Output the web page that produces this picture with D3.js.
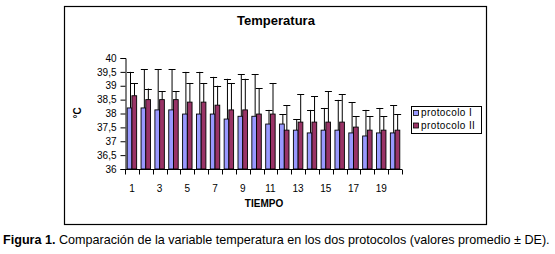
<!DOCTYPE html>
<html>
<head>
<meta charset="utf-8">
<script src="https://cdn.jsdelivr.net/npm/d3@7"></script>
<style>
  body { margin: 0; background: #fff; }
  svg { font-family: "Liberation Sans", Arial, sans-serif; }
</style>
</head>
<body>
<svg id="chart" width="555" height="254"></svg>
<script>
// categories (TIEMPO 1..20)
const tiempo = d3.range(1, 21);
// protocolo I means and SD tops
const protoI    = [38.2, 38.2, 38.13, 38.13, 37.98, 37.98, 37.98, 37.8, 37.9, 37.9,
                   37.62, 37.62, 37.4, 37.3, 37.4, 37.4, 37.3, 37.19, 37.3, 37.3];
const protoIErr = [39.5, 39.6, 39.6, 39.6, 39.5, 39.5, 39.32, 39.25, 39.42, 39.42,
                   38.13, 37.98, 37.8, 38.13, 38.2, 38.49, 38.41, 38.13, 38.2, 38.3];
// protocolo II means and SD tops
const protoII    = [38.64, 38.5, 38.5, 38.5, 38.41, 38.41, 38.3, 38.13, 38.13, 37.98,
                    37.98, 37.4, 37.69, 37.69, 37.69, 37.69, 37.51, 37.4, 37.4, 37.4];
const protoIIErr = [39.1, 38.9, 38.8, 38.8, 39.1, 39.1, 39.0, 39.1, 39.25, 38.92,
                    39.1, 38.3, 38.7, 38.63, 38.81, 38.7, 37.9, 37.9, 37.9, 37.98];
const seriesNames = ['protocolo I', 'protocolo II'];
const yTicks = [36, 36.5, 37, 37.5, 38, 38.5, 39, 39.5, 40];

const svg = d3.select('#chart');

// outer chart frame
svg.append('rect')
    .attr('x', 64.5).attr('y', 6.5)
    .attr('width', 422).attr('height', 218)
    .attr('fill', 'none').attr('stroke', '#000').attr('stroke-width', 1.2);

const plot = { left: 125, right: 402, top: 58, bottom: 169 };

const x0 = d3.scaleBand()
    .domain(tiempo)
    .range([plot.left, plot.right])
    .paddingInner(0).paddingOuter(0);

const x1 = d3.scaleBand()
    .domain(seriesNames)
    .range([2.2, x0.bandwidth() - 2.2]);

const y = d3.scaleLinear()
    .domain([36, 40])
    .range([plot.bottom, plot.top]);

const color = d3.scaleOrdinal()
    .domain(seriesNames)
    .range(['#9999FF', '#993366']);

const rows = tiempo.map((t, i) => ({
  t: t,
  vals: [
    { s: seriesNames[0], v: protoI[i], e: protoIErr[i] },
    { s: seriesNames[1], v: protoII[i], e: protoIIErr[i] }
  ]
}));

const groups = svg.append('g').selectAll('g')
    .data(rows)
  .join('g')
    .attr('transform', d => `translate(${x0(d.t)},0)`);

// error bars (upper only), drawn behind bars
groups.selectAll('.err')
    .data(d => d.vals)
  .join('g')
    .attr('class', 'err')
    .each(function(d) {
      const g = d3.select(this);
      const cx = Math.round(x1(d.s) + x1.bandwidth() / 2) + 0.5;
      g.append('line')
          .attr('x1', cx).attr('x2', cx)
          .attr('y1', y(d.v)).attr('y2', y(d.e))
          .attr('stroke', '#000').attr('stroke-width', 1);
      g.append('line')
          .attr('x1', cx - 3.5).attr('x2', cx + 3.5)
          .attr('y1', Math.round(y(d.e)) + 0.5).attr('y2', Math.round(y(d.e)) + 0.5)
          .attr('stroke', '#000').attr('stroke-width', 1);
    });

groups.selectAll('rect')
    .data(d => d.vals)
  .join('rect')
    .attr('x', d => x1(d.s))
    .attr('y', d => y(d.v))
    .attr('width', x1.bandwidth())
    .attr('height', d => y(36) - y(d.v))
    .attr('fill', d => color(d.s))
    .attr('stroke', '#000')
    .attr('stroke-width', 0.9);

// y axis
const yAxis = d3.axisLeft(y)
    .tickValues(yTicks)
    .tickSize(5)
    .tickPadding(4)
    .tickFormat(d => d3.format('')(d).replace('.', ','));

const yAxisG = svg.append('g')
    .attr('transform', `translate(${plot.left + 0.5},0)`)
    .call(yAxis);
yAxisG.select('.domain').attr('stroke', '#000');
yAxisG.selectAll('text').attr('font-size', 10).attr('fill', '#000')
    .attr('font-family', '"Liberation Sans", Arial, sans-serif');

// x axis: ticks between categories, labels on odd categories
const xAxisG = svg.append('g')
    .attr('transform', `translate(0,${plot.bottom + 0.5})`);
xAxisG.append('line')
    .attr('x1', plot.left).attr('x2', plot.right)
    .attr('stroke', '#000');
xAxisG.selectAll('.tk')
    .data(tiempo.concat([21]))
  .join('line')
    .attr('class', 'tk')
    .attr('x1', d => Math.round(d <= 20 ? x0(d) : plot.right) + 0.5)
    .attr('x2', d => Math.round(d <= 20 ? x0(d) : plot.right) + 0.5)
    .attr('y1', 0).attr('y2', 5)
    .attr('stroke', '#000');
xAxisG.selectAll('.lbl')
    .data(tiempo.filter(t => t % 2 === 1))
  .join('text')
    .attr('class', 'lbl')
    .attr('x', d => x0(d) + x0.bandwidth() / 2)
    .attr('y', 22)
    .attr('text-anchor', 'middle')
    .attr('font-size', 10)
    .text(d => d);

// titles
svg.append('text')
    .attr('x', 276).attr('y', 25)
    .attr('text-anchor', 'middle')
    .attr('font-size', 13).attr('font-weight', 'bold')
    .text('Temperatura');

svg.append('text')
    .attr('x', 264).attr('y', 207)
    .attr('text-anchor', 'middle')
    .attr('font-size', 10).attr('font-weight', 'bold')
    .text('TIEMPO');

svg.append('text')
    .attr('transform', 'translate(81,113) rotate(-90)')
    .attr('text-anchor', 'middle')
    .attr('font-size', 10).attr('font-weight', 'bold')
    .text('°C');

// legend
const legend = svg.append('g');
legend.append('rect')
    .attr('x', 411.5).attr('y', 106.5)
    .attr('width', 70).attr('height', 27)
    .attr('fill', '#fff').attr('stroke', '#000');
const li = legend.selectAll('.li')
    .data(seriesNames)
  .join('g')
    .attr('class', 'li')
    .attr('transform', (d, i) => `translate(413,${110 + i * 12.5})`);
li.append('rect')
    .attr('x', 0.5).attr('y', 0.5)
    .attr('width', 5).attr('height', 5)
    .attr('fill', d => color(d))
    .attr('stroke', '#000').attr('stroke-width', 0.8);
li.append('text')
    .attr('x', 8).attr('y', 6)
    .attr('font-size', 10)
    .attr('letter-spacing', 0.4)
    .text(d => d);

// caption
const cap = svg.append('text')
    .attr('x', 3).attr('y', 244)
    .attr('font-size', 12.6)
    .attr('font-family', '"Liberation Sans", Arial, sans-serif');
cap.append('tspan').attr('font-weight', 'bold').text('Figura 1.');
cap.append('tspan').text(' Comparación de la variable temperatura en los dos protocolos (valores promedio ± DE).');
</script>
</body>
</html>
